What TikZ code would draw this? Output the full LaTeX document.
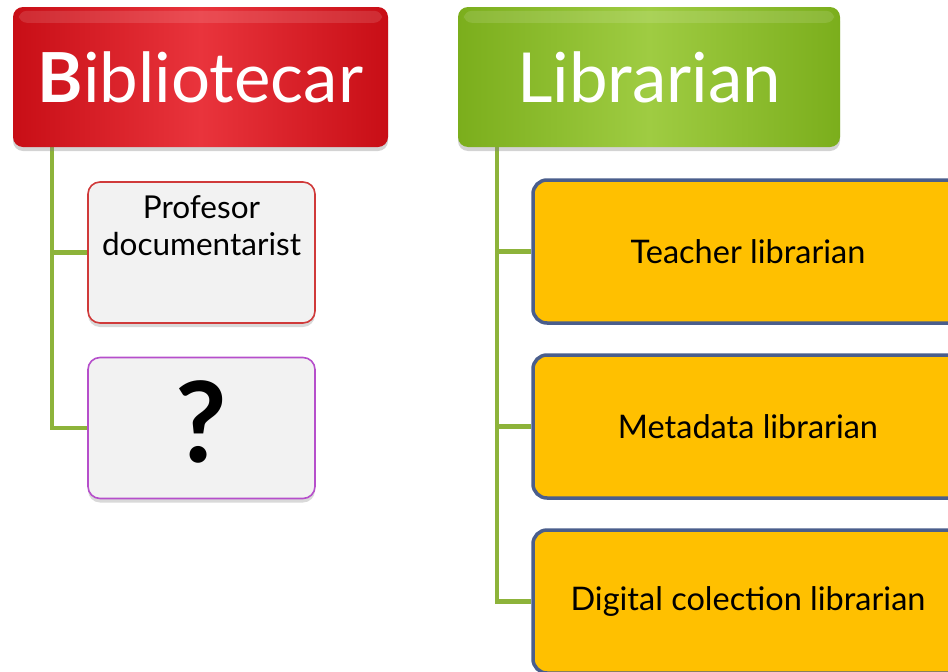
\documentclass[tikz,border=0pt]{standalone}
\usepackage{fontspec}
\setmainfont{Lato}
\usetikzlibrary{shadows,positioning}
\definecolor{redA}{HTML}{C80E16}
\definecolor{redB}{HTML}{E9343C}
\definecolor{grnA}{HTML}{7BAE1C}
\definecolor{grnB}{HTML}{9FCC42}
\definecolor{conncol}{HTML}{8DB33A}
\definecolor{orfill}{HTML}{FFC000}
\definecolor{orline}{HTML}{4A5E8C}
\definecolor{grayfill}{HTML}{F2F2F2}
\definecolor{profline}{HTML}{D03A3A}
\definecolor{qline}{HTML}{B64FCB}
\tikzset{
  header/.style={rectangle, rounded corners=10pt, minimum width=#1, minimum height=140pt,
    inner sep=0pt, text=white, font=\fontsize{69}{70}\selectfont,
    drop shadow={opacity=0.35, shadow xshift=0pt, shadow yshift=-4pt}},
  graybox/.style={rectangle, rounded corners=12pt, minimum width=227pt, minimum height=141pt,
    fill=grayfill, draw=#1, line width=1.6pt, inner sep=0pt,
    drop shadow={opacity=0.3, shadow xshift=0pt, shadow yshift=-4pt}},
  orbox/.style={rectangle, rounded corners=14pt, minimum width=430pt, minimum height=143pt,
    fill=orfill, draw=orline, line width=3.5pt, inner sep=0pt,
    font=\fontsize{32.5}{36}\selectfont},
  conn/.style={draw=conncol, line width=4.5pt},
  boxtext/.style={font=\fontsize{31.5}{37}\selectfont, align=center, inner sep=0pt}
}
\begin{document}
\begin{tikzpicture}[x=1pt,y=-1pt]
\useasboundingbox (0,0) rectangle (948,672);
\begin{scope}
\clip (0,0) rectangle (948,672);
\coordinate (lc) at (52,147);
\coordinate (rc) at (497,147);
\node[graybox=profline] (prof) at (201.5,252.5) {};
\node[graybox=qline] (q) at (201.5,428) {};
\node[orbox] (t1) at (748,251.5) {Teacher librarian};
\node[orbox] (t2) at (748,426.5) {Metadata librarian};
\node[orbox] (t3) at (748,601.5) {Digital colection librarian};
\draw[conn] (lc) |- (prof.west);
\draw[conn] (lc) |- (q.west);
\draw[conn] (rc) |- (t1.west);
\draw[conn] (rc) |- (t2.west);
\draw[conn] (rc) |- (t3.west);
\node[header=375pt, left color=redA, right color=redA, middle color=redB] (bib) at (200.5,77)
  {{\bfseries B}ibliotecar};
\node[header=382pt, left color=grnA, right color=grnA, middle color=grnB] (lib) at (649,77)
  {Librarian};
\fill[white, opacity=0.12, rounded corners=8pt] ([xshift=6pt,yshift=-4pt]bib.north west) rectangle ([xshift=-6pt,yshift=-16pt]bib.north east);
\fill[white, opacity=0.12, rounded corners=8pt] ([xshift=6pt,yshift=-4pt]lib.north west) rectangle ([xshift=-6pt,yshift=-16pt]lib.north east);
\node[boxtext, anchor=north] (proftext) at ([yshift=-14pt]prof.north) {Profesor\\documentarist};
\node[font=\fontsize{112}{112}\selectfont\bfseries, inner sep=0pt] (qm) at ([yshift=6pt]q.center) {?};
\end{scope}
\end{tikzpicture}
\end{document}
